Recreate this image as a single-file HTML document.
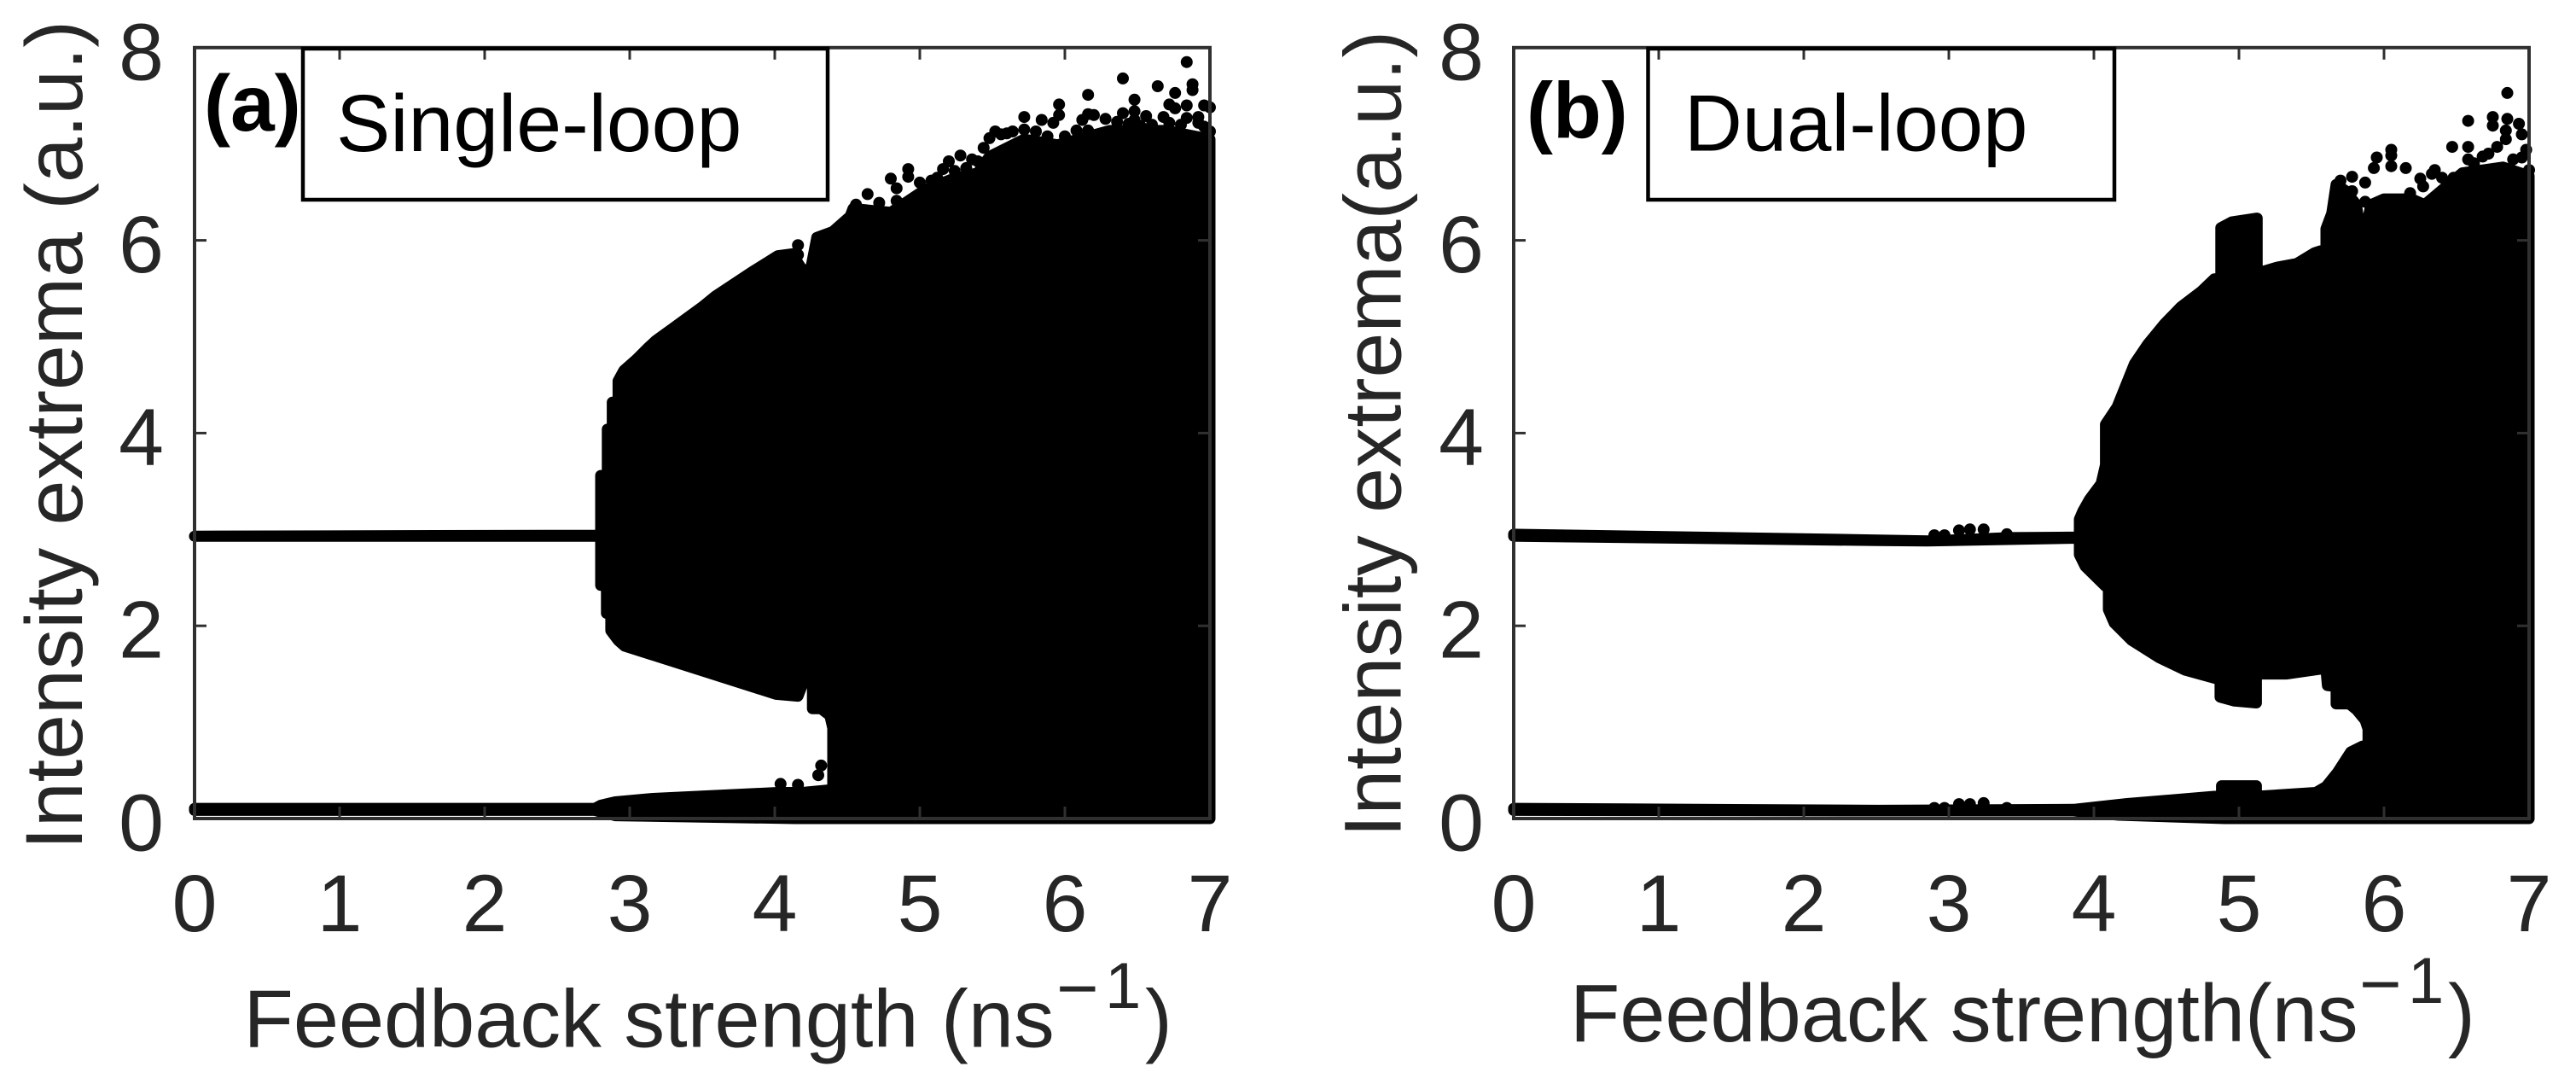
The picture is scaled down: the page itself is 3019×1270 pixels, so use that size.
<!DOCTYPE html>
<html lang="en">
<head>
<meta charset="utf-8">
<title>Intensity extrema vs feedback strength</title>
<style>
html,body{margin:0;padding:0;background:#fff;width:3019px;height:1270px;overflow:hidden}
svg{display:block}
text{font-family:"Liberation Sans",Arial,sans-serif;fill:#262626}
</style>
</head>
<body>
<svg id="figure" width="3019" height="1270" viewBox="0 0 3019 1270" xmlns="http://www.w3.org/2000/svg">
  <g id="panel-a"></g>
  <g id="panel-b"></g>

  <text transform="translate(96,995.5) rotate(-90)" font-size="95">Intensity extrema (a.u.)</text>
  <text x="285.5" y="1226.7" font-size="95.5">Feedback strength (ns</text>
  <text x="1238" y="1187" font-size="85">−</text>
  <text x="1295" y="1181" font-size="76">1</text>
  <text x="1342" y="1226.7" font-size="95.5">)</text>

  <text transform="translate(1641.5,981) rotate(-90)" font-size="95">Intensity extrema(a.u.)</text>
  <text x="1840" y="1220" font-size="95.5">Feedback strength(ns</text>
  <text x="2765" y="1182" font-size="85">−</text>
  <text x="2822" y="1175" font-size="76">1</text>
  <text x="2869" y="1220" font-size="95.5">)</text>

  <text x="239" y="153" font-size="93" font-weight="bold" style="fill:#000">(a)</text>
  <rect x="355" y="57" width="615" height="177" fill="none" stroke="#000" stroke-width="4.5"/>
  <text x="394" y="177" font-size="95" style="fill:#000">Single-loop</text>

  <text x="1789" y="161.7" font-size="93" font-weight="bold" style="fill:#000">(b)</text>
  <rect x="1931.5" y="57" width="546.5" height="177" fill="none" stroke="#000" stroke-width="4.5"/>
  <text x="1974" y="176.7" font-size="94" style="fill:#000">Dual-loop</text>
</svg>

<script>
const xTickLabels = [0, 1, 2, 3, 4, 5, 6, 7];
const yTickLabels = [0, 2, 4, 6, 8];

/* Panel (a) single-loop, in axis units */
const aUpperEdgeX = [0, 2.78, 2.80, 2.80, 2.846, 2.846, 2.88, 2.88, 2.92, 2.92, 2.96, 3.05, 3.13, 3.18, 3.29, 3.50, 3.59, 3.84, 4.02, 4.12, 4.20, 4.25, 4.29, 4.40, 4.52, 4.54, 4.80, 5.03, 5.23, 5.40, 5.48, 5.72, 5.95, 6.31, 6.70, 7.0];
const aUpperEdgeV = [2.93, 2.94, 2.94, 3.56, 3.56, 4.04, 4.04, 4.32, 4.32, 4.54, 4.65, 4.77, 4.89, 4.96, 5.08, 5.31, 5.42, 5.67, 5.84, 5.86, 5.67, 5.72, 6.03, 6.09, 6.25, 6.33, 6.29, 6.52, 6.64, 6.70, 6.87, 7.05, 6.99, 7.14, 7.14, 7.05];
const aGapTopX = [0, 2.78, 2.80, 2.80, 2.84, 2.84, 2.87, 2.87, 2.92, 2.965, 4.01, 4.16, 4.20, 4.26, 4.26, 4.32, 4.38, 4.40, 4.40, 7.0];
const aGapTopV = [2.93, 2.93, 2.93, 2.42, 2.42, 2.13, 2.13, 1.95, 1.85, 1.79, 1.29, 1.27, 1.43, 1.43, 1.14, 1.14, 1.07, 0.94, 0, 0];
const aGapBottomX = [0, 2.76, 2.80, 2.90, 3.16, 4.02, 4.19, 4.40];
const aGapBottomV = [0.105, 0.105, 0.137, 0.173, 0.208, 0.27, 0.27, 0.30];
const aFloorX = [0, 2.76, 2.90, 4.14, 4.40];
const aFloorV = [0.085, 0.085, 0.03, 0, 0];
const aScatterX = [4.64, 4.80, 4.92, 4.92, 4.84, 5.00, 4.72, 5.20, 5.28, 5.36, 5.44, 5.48, 5.52, 5.72, 5.84, 5.92, 5.96, 5.96, 6.16, 6.40, 6.64, 6.76, 6.88, 6.88, 6.84, 6.84, 6.72, 6.76, 6.48, 6.48, 6.48, 6.40, 6.56, 6.68, 6.12, 6.16, 6.20, 6.28, 6.96, 7.00, 6.92, 7.00, 5.72, 5.80, 5.88, 6.00, 6.08, 6.16, 6.24, 5.44, 5.32, 5.16, 5.08, 4.56, 4.84, 4.16, 4.16, 4.04, 4.32, 4.30, 4.16, 5.56, 5.60, 5.64, 6.36, 6.44, 6.52, 6.60, 6.72, 6.80, 6.84, 6.92, 6.96, 5.12, 5.24, 5.40];
const aScatterV = [6.48, 6.64, 6.74, 6.66, 6.54, 6.60, 6.39, 6.82, 6.88, 6.84, 6.96, 7.06, 7.13, 7.28, 7.25, 7.22, 7.30, 7.41, 7.51, 7.68, 7.60, 7.53, 7.62, 7.56, 7.85, 7.40, 7.41, 7.37, 7.46, 7.34, 7.25, 7.32, 7.29, 7.28, 7.25, 7.31, 7.30, 7.26, 7.40, 7.38, 7.28, 7.13, 7.15, 7.13, 7.08, 7.08, 7.14, 7.14, 7.09, 6.78, 6.75, 6.74, 6.62, 6.37, 6.41, 5.95, 5.85, 0.36, 0.55, 0.45, 0.35, 7.10, 7.11, 7.13, 7.23, 7.21, 7.19, 7.20, 7.22, 7.20, 7.27, 7.22, 7.18, 6.65, 6.72, 6.82];

/* Panel (b) dual-loop */
const bUpperEdgeX = [0, 2.51, 2.86, 3.42, 3.88, 3.90, 3.90, 3.925, 3.97, 4.05, 4.08, 4.08, 4.16, 4.28, 4.37, 4.485, 4.60, 4.74, 4.83, 4.875, 4.875, 4.95, 5.125, 5.125, 5.26, 5.40, 5.52, 5.56, 5.60, 5.60, 5.64, 5.67, 5.73, 5.81, 5.83, 5.88, 5.91, 6.0, 6.19, 6.28, 6.54, 6.82, 7.0];
const bUpperEdgeV = [2.95, 2.89, 2.88, 2.915, 2.92, 2.92, 3.106, 3.194, 3.313, 3.475, 3.67, 4.09, 4.27, 4.72, 4.92, 5.13, 5.31, 5.47, 5.60, 5.60, 6.13, 6.19, 6.23, 5.66, 5.72, 5.76, 5.87, 5.89, 5.89, 6.12, 6.28, 6.58, 6.52, 6.37, 6.16, 6.16, 6.37, 6.43, 6.43, 6.37, 6.70, 6.76, 6.67];
const bGapTopX = [0, 2.51, 2.85, 3.88, 3.90, 3.90, 3.94, 4.08, 4.10, 4.10, 4.14, 4.26, 4.45, 4.63, 4.87, 4.87, 4.97, 5.12, 5.12, 5.33, 5.56, 5.60, 5.61, 5.67, 5.67, 5.76, 5.81, 5.87, 5.89, 5.89, 5.89, 7.0];
const bGapTopV = [2.93, 2.885, 2.88, 2.91, 2.91, 2.74, 2.617, 2.41, 2.40, 2.17, 2.03, 1.85, 1.67, 1.54, 1.44, 1.26, 1.22, 1.20, 1.50, 1.50, 1.55, 1.55, 1.38, 1.37, 1.19, 1.19, 1.13, 1.02, 0.93, 0.76, 0, 0];
const bGapBottomX = [0, 2.51, 3.86, 4.23, 4.83, 4.88, 4.88, 5.12, 5.12, 5.53, 5.60, 5.68, 5.77, 5.85, 5.89];
const bGapBottomV = [0.105, 0.085, 0.095, 0.155, 0.23, 0.23, 0.34, 0.34, 0.23, 0.27, 0.33, 0.48, 0.69, 0.75, 0.76];
const bFloorX = [0, 2.51, 3.86, 4.17, 4.90, 5.89];
const bFloorV = [0.085, 0.08, 0.08, 0.035, 0, 0];
const bScatterX = [6.85, 6.58, 6.75, 6.75, 6.85, 6.93, 6.84, 6.95, 6.84, 6.47, 6.58, 6.78, 6.98, 6.72, 6.05, 6.05, 5.95, 6.05, 5.93, 6.15, 5.78, 5.70, 5.87, 5.78, 6.25, 6.35, 6.48, 6.58, 5.87, 6.27, 7.00, 6.33, 6.40, 2.90, 2.97, 3.07, 3.145, 3.24, 3.40, 2.90, 2.97, 3.07, 3.145, 3.24, 3.40, 6.68, 6.89, 6.18, 5.70, 6.62, 6.95];
const bScatterV = [7.53, 7.24, 7.28, 7.19, 7.26, 7.21, 7.14, 7.10, 7.05, 6.97, 6.97, 6.97, 6.94, 6.90, 6.94, 6.88, 6.86, 6.77, 6.75, 6.75, 6.66, 6.62, 6.60, 6.51, 6.64, 6.73, 6.65, 6.84, 6.40, 6.56, 6.73, 6.69, 6.65, 2.94, 2.94, 2.99, 3.00, 3.00, 2.95, 0.11, 0.11, 0.15, 0.15, 0.16, 0.11, 6.87, 6.84, 6.49, 6.46, 6.80, 6.86];

const NS = 'http://www.w3.org/2000/svg';
const PLOT_TOP = 55.8;
const PLOT_BOTTOM = 959;
const X_UNIT = 170;
const MARKER_D = 13;
const DOT_D = 14;
const INK = '#303030';
const yScale = v => PLOT_BOTTOM - (PLOT_BOTTOM - PLOT_TOP) * v / 8;

function edgePath(xScale, xs1, vs1, xs2, vs2) {
  const pts = [];
  xs1.forEach((x, i) => pts.push(xScale(x).toFixed(1) + ' ' + yScale(vs1[i]).toFixed(1)));
  for (let i = xs2.length - 1; i >= 0; i--) {
    pts.push(xScale(xs2[i]).toFixed(1) + ' ' + yScale(vs2[i]).toFixed(1));
  }
  return 'M' + pts.join('L') + 'Z';
}

function drawPanel(groupId, left, tickLabelRight, series) {
  const g = document.getElementById(groupId);
  const xScale = x => left + X_UNIT * x;
  const right = xScale(7);

  const upper = document.createElementNS(NS, 'path');
  
  
  upper.setAttribute('d', edgePath(xScale, series.upperX, series.upperV, series.gapTopX, series.gapTopV));
  upper.setAttribute('fill', '#000');
  upper.setAttribute('stroke', '#000');
  upper.setAttribute('stroke-width', MARKER_D);
  upper.setAttribute('stroke-linejoin', 'round');
  g.appendChild(upper);

  const lower = document.createElementNS(NS, 'path');
  
  
  lower.setAttribute('d', edgePath(xScale, series.gapBottomX, series.gapBottomV, series.floorX, series.floorV));
  lower.setAttribute('fill', '#000');
  lower.setAttribute('stroke', '#000');
  lower.setAttribute('stroke-width', MARKER_D);
  lower.setAttribute('stroke-linejoin', 'round');
  g.appendChild(lower);

  series.dotX.forEach((x, i) => {
    const dot = document.createElementNS(NS, 'circle');
    
    
    dot.setAttribute('cx', xScale(x).toFixed(1));
    dot.setAttribute('cy', yScale(series.dotV[i]).toFixed(1));
    dot.setAttribute('r', DOT_D / 2);
    dot.setAttribute('fill', '#000');
    g.appendChild(dot);
  });

  const frame = document.createElementNS(NS, 'rect');
  
  
  frame.setAttribute('x', left);
  frame.setAttribute('y', PLOT_TOP);
  frame.setAttribute('width', right - left);
  frame.setAttribute('height', PLOT_BOTTOM - PLOT_TOP);
  frame.setAttribute('fill', 'none');
  frame.setAttribute('stroke', INK);
  frame.setAttribute('stroke-width', 4);
  g.appendChild(frame);

  xTickLabels.forEach(t => {
    const px = xScale(t);
    [[PLOT_BOTTOM, PLOT_BOTTOM - 14], [PLOT_TOP, PLOT_TOP + 14]].forEach(seg => {
      const tick = document.createElementNS(NS, 'line');
      
      
      tick.setAttribute('x1', px);
      tick.setAttribute('x2', px);
      tick.setAttribute('y1', seg[0]);
      tick.setAttribute('y2', seg[1]);
      tick.setAttribute('stroke', INK);
      tick.setAttribute('stroke-width', 3);
      g.appendChild(tick);
    });
    const label = document.createElementNS(NS, 'text');
    
    
    label.setAttribute('x', px);
    label.setAttribute('y', 1091);
    label.setAttribute('font-size', 95);
    label.setAttribute('text-anchor', 'middle');
    label.textContent = t;
    g.appendChild(label);
  });

  yTickLabels.forEach(t => {
    const py = yScale(t);
    [[left, left + 14], [right, right - 14]].forEach(seg => {
      const tick = document.createElementNS(NS, 'line');
      
      
      tick.setAttribute('x1', seg[0]);
      tick.setAttribute('x2', seg[1]);
      tick.setAttribute('y1', py);
      tick.setAttribute('y2', py);
      tick.setAttribute('stroke', INK);
      tick.setAttribute('stroke-width', 3);
      g.appendChild(tick);
    });
    const label = document.createElementNS(NS, 'text');
    
    
    label.setAttribute('x', tickLabelRight);
    label.setAttribute('y', py + 37.5);
    label.setAttribute('font-size', 95);
    label.setAttribute('text-anchor', 'end');
    label.textContent = t;
    g.appendChild(label);
  });
}

drawPanel('panel-a', 228, 192, {
  upperX: aUpperEdgeX, upperV: aUpperEdgeV,
  gapTopX: aGapTopX, gapTopV: aGapTopV,
  gapBottomX: aGapBottomX, gapBottomV: aGapBottomV,
  floorX: aFloorX, floorV: aFloorV,
  dotX: aScatterX, dotV: aScatterV
});
drawPanel('panel-b', 1774, 1739, {
  upperX: bUpperEdgeX, upperV: bUpperEdgeV,
  gapTopX: bGapTopX, gapTopV: bGapTopV,
  gapBottomX: bGapBottomX, gapBottomV: bGapBottomV,
  floorX: bFloorX, floorV: bFloorV,
  dotX: bScatterX, dotV: bScatterV
});
</script>
</body>
</html>
